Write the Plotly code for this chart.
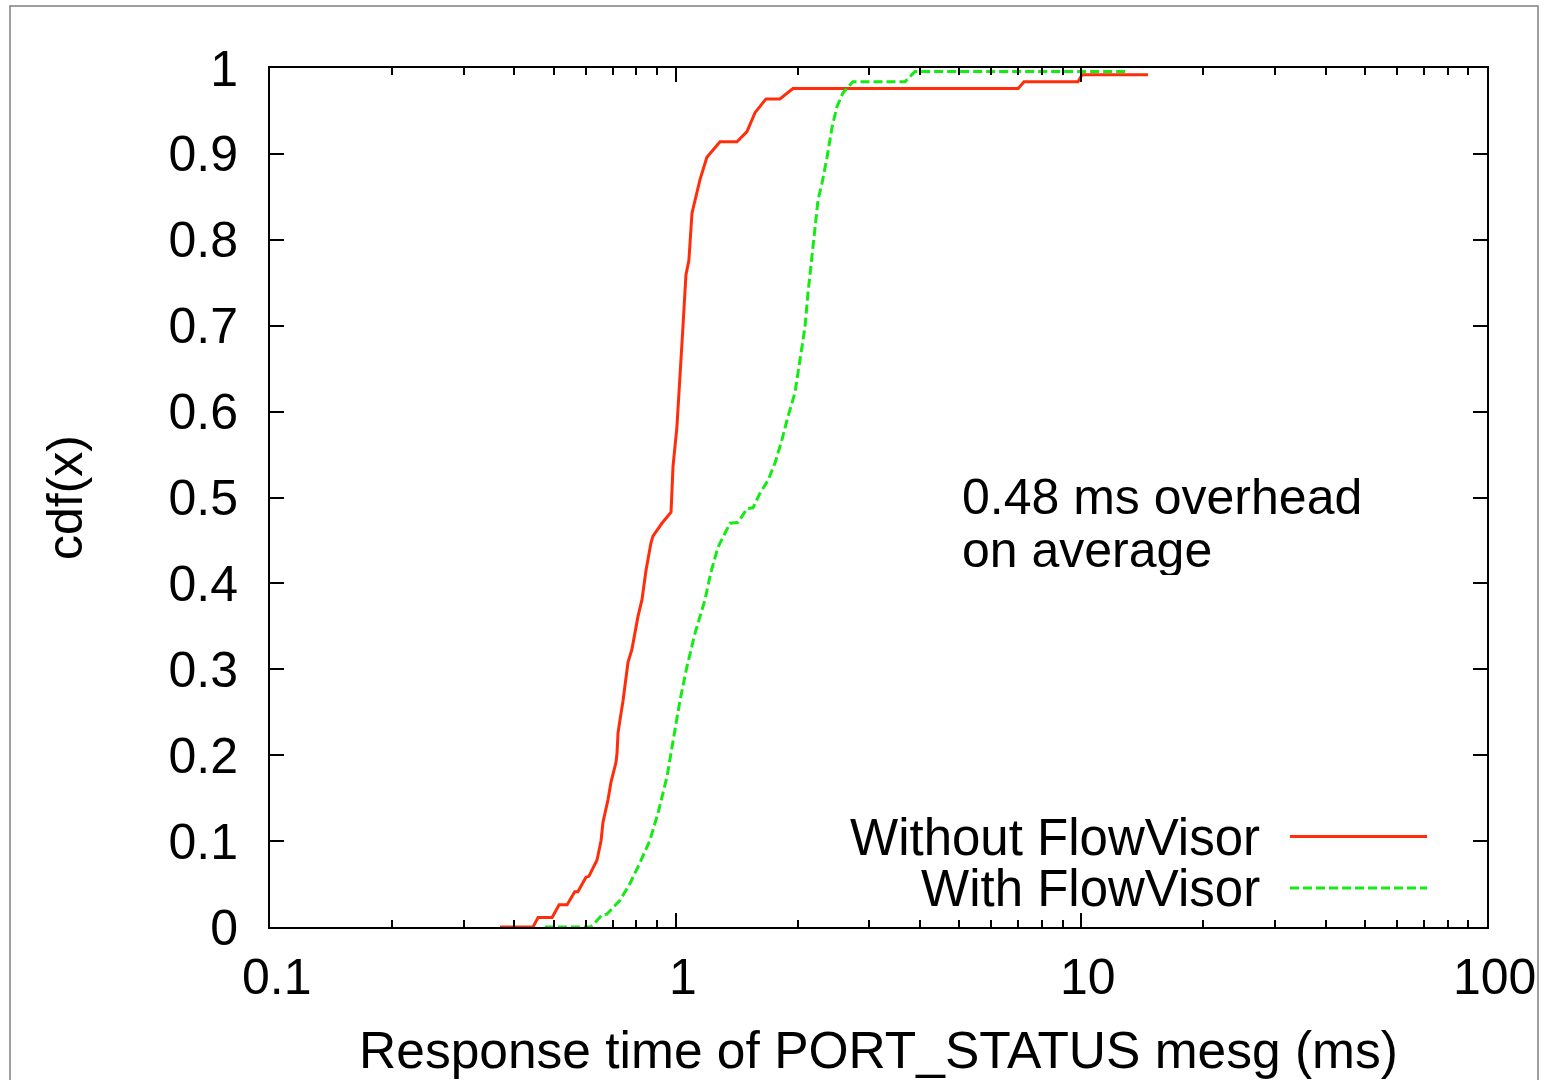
import math
import plotly.graph_objects as go

# Without FlowVisor (response time in ms, cdf)
red_x = [0.369, 0.445, 0.458, 0.496, 0.516, 0.540, 0.564, 0.574, 0.601, 0.611,
         0.640, 0.655, 0.662, 0.681, 0.693, 0.713, 0.717, 0.721, 0.729, 0.742,
         0.763, 0.780, 0.807, 0.826, 0.845, 0.869, 0.879, 0.925, 0.974, 0.985,
         1.007, 1.031, 1.042, 1.060, 1.078, 1.097, 1.148, 1.194, 1.286, 1.416,
         1.499, 1.569, 1.670, 1.807, 1.946, 6.982, 7.224, 9.815, 10.04, 14.60]
red_y = [0.0, 0.0, 0.011, 0.011, 0.026, 0.026, 0.041, 0.041, 0.058, 0.059,
         0.078, 0.101, 0.122, 0.148, 0.169, 0.192, 0.203, 0.226, 0.241, 0.264,
         0.308, 0.323, 0.361, 0.381, 0.415, 0.447, 0.455, 0.470, 0.483, 0.536,
         0.582, 0.657, 0.698, 0.759, 0.776, 0.831, 0.870, 0.896, 0.914, 0.914,
         0.926, 0.948, 0.964, 0.964, 0.976, 0.976, 0.984, 0.984, 0.992, 0.992]

# With FlowVisor
green_x = [0.476, 0.615, 0.625, 0.658, 0.677, 0.729, 0.772, 0.817, 0.864, 0.905,
           0.952, 0.985, 1.025, 1.066, 1.116, 1.181, 1.220, 1.271, 1.300, 1.361,
           1.424, 1.499, 1.551, 1.614, 1.689, 1.757, 1.828, 1.891, 1.968, 2.002,
           2.048, 2.083, 2.119, 2.180, 2.243, 2.295, 2.361, 2.429, 2.498, 2.585,
           2.735, 3.675, 3.890, 12.97]
green_y = [0.0, 0.0, 0.002, 0.014, 0.015, 0.031, 0.051, 0.075, 0.101, 0.133,
           0.175, 0.218, 0.264, 0.303, 0.342, 0.381, 0.412, 0.442, 0.451, 0.470,
           0.471, 0.487, 0.488, 0.505, 0.520, 0.540, 0.567, 0.594, 0.622, 0.645,
           0.672, 0.698, 0.738, 0.796, 0.846, 0.866, 0.896, 0.931, 0.955, 0.971,
           0.984, 0.984, 0.996, 0.996]

y_ticks = [0, 0.1, 0.2, 0.3, 0.4, 0.5, 0.6, 0.7, 0.8, 0.9, 1]
y_tick_labels = ["0", "0.1", "0.2", "0.3", "0.4", "0.5", "0.6", "0.7", "0.8", "0.9", "1"]
x_ticks = [0.1, 1, 10, 100]
x_tick_labels = ["0.1", "1", "10", "100"]

RED = "rgb(255,45,10)"
GREEN = "rgb(20,235,20)"
FONT = "Liberation Sans, Arial, sans-serif"

fig = go.Figure()
fig.add_trace(go.Scatter(x=red_x, y=red_y, mode="lines", name="Without FlowVisor",
                         line=dict(color=RED, width=3)))
fig.add_trace(go.Scatter(x=green_x, y=green_y, mode="lines", name="With FlowVisor",
                         line=dict(color=GREEN, width=3, dash="9px,4px")))

W, H = 1543, 1080
L, R, T, B = 270, 1487, 68, 927
pw, ph = R - L, B - T

def px(xp):
    return (xp - L) / pw

def py(yp):
    return (B - yp) / ph

fig.update_layout(
    width=W, height=H,
    margin=dict(l=L, r=W - R, t=T, b=H - B),
    paper_bgcolor="white", plot_bgcolor="white",
    showlegend=False,
    font=dict(family=FONT, size=50, color="black"),
    xaxis=dict(
        type="log", range=[-1, 2],
        tickvals=x_ticks, ticktext=x_tick_labels, showticklabels=False,
        ticks="inside", ticklen=14, tickwidth=2, tickcolor="black",
        showline=True, linecolor="black", linewidth=2, mirror="allticks",
        showgrid=False, zeroline=False,
        minor=dict(ticks="inside", ticklen=7, tickwidth=2, tickcolor="black",
                   dtick="D1", showgrid=False),
        title=dict(text="Response time of PORT_STATUS mesg (ms)",
                   font=dict(size=51.5, family=FONT), standoff=104),
    ),
    yaxis=dict(
        range=[0, 1],
        tickvals=y_ticks, ticktext=y_tick_labels,
        ticks="inside", ticklen=14, tickwidth=2, tickcolor="black",
        showline=True, linecolor="black", linewidth=2, mirror="allticks",
        showgrid=False, zeroline=False,
        tickfont=dict(size=50, family=FONT),
        ticklabelstandoff=20,
        title=dict(text="cdf(x)", font=dict(size=50, family=FONT), standoff=70),
    ),
)

# x tick labels (gnuplot places them slightly right of the tick)
for v, lab in zip(x_ticks, x_tick_labels):
    fig.add_annotation(x=math.log10(v), y=0, xref="x", yref="paper",
                       text=lab, showarrow=False, xanchor="center", yanchor="top",
                       xshift=7, yshift=-25, height=46,
                       font=dict(size=50, family=FONT))

# overhead note
fig.add_annotation(x=px(960), y=py(497), xref="paper", yref="paper",
                   text="0.48 ms overhead", showarrow=False, xanchor="left",
                   yanchor="middle", height=50, font=dict(size=50, family=FONT))
fig.add_annotation(x=px(960), y=py(550), xref="paper", yref="paper",
                   text="on average", showarrow=False, xanchor="left",
                   yanchor="middle", height=50, font=dict(size=50, family=FONT))

# legend (gnuplot style: text right-aligned, sample line to the right)
fig.add_annotation(x=px(1262), y=py(837), xref="paper", yref="paper",
                   text="Without FlowVisor", showarrow=False, xanchor="right",
                   yanchor="middle", height=46, font=dict(size=51, family=FONT))
fig.add_annotation(x=px(1262), y=py(888), xref="paper", yref="paper",
                   text="With FlowVisor", showarrow=False, xanchor="right",
                   yanchor="middle", height=46, font=dict(size=51, family=FONT))
fig.add_shape(type="line", xref="paper", yref="paper",
              x0=px(1290), x1=px(1427), y0=py(836.5), y1=py(836.5),
              line=dict(color=RED, width=3))
fig.add_shape(type="line", xref="paper", yref="paper",
              x0=px(1290), x1=px(1427), y0=py(888), y1=py(888),
              line=dict(color=GREEN, width=3, dash="9px,4px"))

# outer gray frame
fig.add_shape(type="rect", xref="paper", yref="paper",
              x0=px(10), x1=px(1538), y0=py(1100), y1=py(6),
              line=dict(color="rgb(128,128,128)", width=1.5), layer="below")

fig.write_html("out.html", config={"displayModeBar": False},
               post_script="document.body.style.margin='0px';")
